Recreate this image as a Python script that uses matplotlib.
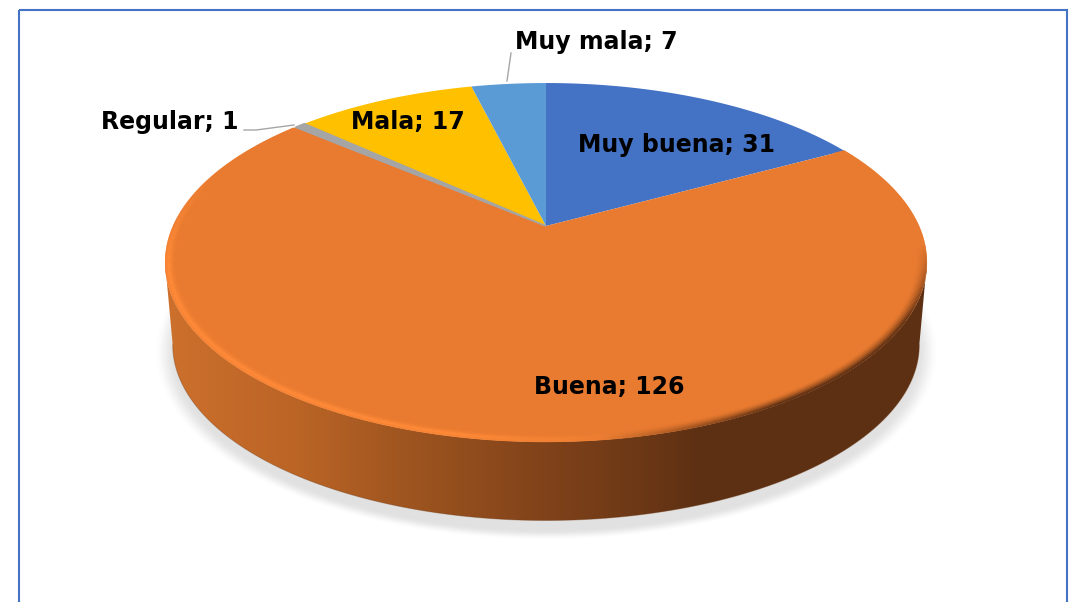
import matplotlib
matplotlib.use('Agg')
import matplotlib.pyplot as plt
import matplotlib.patches as patches
from matplotlib.collections import LineCollection
import numpy as np

# Data
categories = ['Muy buena', 'Buena', 'Regular', 'Mala', 'Muy mala']
values = [31, 126, 1, 17, 7]
colors = ['#4472C4', '#E97B30', '#A5A5A5', '#FFC000', '#5B9BD5']

# Where the 3D disc sits on the page, in pixels
cx = 546
apex_y = 226
rad_x = 373
rad_y = 172
persp = 0.203
low_apex_y = 309
low_scale = 0.98

fig = plt.figure(figsize=(10.74, 6.02), dpi=100)
ax = fig.add_axes([0, 0, 1, 1])
ax.set_xlim(0, 1074)
ax.set_ylim(602, 0)
ax.axis('off')


# Perspective view of a disc, angle in degrees clockwise from the top
def project(theta, rho=1.0, y0=apex_y, scale=1.0):
    t = np.radians(theta)
    u = rho * np.sin(t)
    v = rho * np.cos(t)
    d = 1 + persp * v
    return cx + scale * rad_x * u / d, y0 - scale * rad_y * v / d


# Frame
ax.add_patch(patches.Rectangle((19, 10), 1048, 640, fill=False, edgecolor='#4472C4', linewidth=1.5))

# Soft shadow under the disc
xx, yy = np.meshgrid(np.arange(130, 960), np.arange(240, 560))
r = np.sqrt(((xx - cx) / 372.0) ** 2 + ((yy - 352) / 178.0) ** 2)
fade = np.clip((1.055 - r) / 0.06, 0, 1)
fade = fade * fade * (3 - 2 * fade)
shadow = np.zeros(r.shape + (4,))
shadow[..., :3] = 0.35
shadow[..., 3] = 0.18 * fade
ax.imshow(shadow, extent=(130, 960, 560, 240), aspect='auto', zorder=1, interpolation='bilinear')

# Side of the disc: gradient clipped to the rim outline
theta_edge = np.degrees(np.arccos(-persp))
th = np.linspace(theta_edge, 360 - theta_edge, 400)
top_x, top_y = project(th)
low_x, low_y = project(th, y0=low_apex_y, scale=low_scale)
side_pts = np.column_stack([np.r_[top_x, low_x[::-1]], np.r_[top_y, low_y[::-1]]])
side = patches.Polygon(side_pts, closed=True, facecolor='none', edgecolor='none', zorder=2)
ax.add_patch(side)
grad_x = np.arange(150, 950)
stops_x = [165, 300, 400, 546, 640, 700, 930]
stops_r = [205, 186, 160, 128, 108, 93, 93]
stops_g = [112, 100, 86, 66, 56, 48, 48]
stops_b = [45, 38, 32, 26, 22, 19, 19]
grad = np.column_stack([np.interp(grad_x, stops_x, stops_r),
                        np.interp(grad_x, stops_x, stops_g),
                        np.interp(grad_x, stops_x, stops_b)]) / 255
im = ax.imshow(grad[np.newaxis, :, :], extent=(150, 950, 540, 240), aspect='auto', zorder=2)
im.set_clip_path(side)
ax.plot(low_x, low_y, color='#6E3A14', linewidth=0.7, alpha=0.35, zorder=2)

# Top of the disc, one polygon per slice
angles = np.r_[0, np.cumsum(values)] / np.sum(values) * 360
for i in range(len(values)):
    th = np.linspace(angles[i], angles[i + 1], 200)
    x, y = project(th)
    pts = np.column_stack([np.r_[cx, x], np.r_[apex_y, y]])
    # the one-unit slice gets an edge so that it keeps its visible width
    edge = colors[i] if values[i] == min(values) else 'none'
    ax.add_patch(patches.Polygon(pts, closed=True, facecolor=colors[i], edgecolor=edge,
                                 linewidth=1.2, zorder=3 + (values[i] == min(values)) * 0.5))

# Bevel along the rim of the big slice
base = np.array([233, 123, 48]) / 255
bright = np.array([255, 138, 56]) / 255
dark = np.array([98, 50, 20]) / 255
th = np.linspace(angles[1], angles[2] - 0.5, 700)
for rho in np.linspace(0.962, 0.998, 16):
    x, y = project(th, rho)
    v = np.cos(np.radians(th))
    h = np.exp(-((rho - 0.992) / 0.010) ** 2) * np.clip((640 - x) / 180, 0, 1) * np.clip((0.3 - v) / 0.5, 0, 1)
    d = np.clip((rho - 0.972) / 0.026, 0, 1) ** 1.6 * np.clip((x - 600) / 180, 0, 1) * np.clip((-0.1 - v) / 0.4, 0, 1)
    c = base + h[:, None] * (bright - base)
    c = c + d[:, None] * (dark - c)
    segs = np.stack([np.column_stack([x[:-1], y[:-1]]), np.column_stack([x[1:], y[1:]])], axis=1)
    ax.add_collection(LineCollection(segs, colors=c[:-1], linewidths=1.3, zorder=3.2))

# Leader lines
ax.plot([511, 507], [53, 81], color='#A6A6A6', linewidth=1, zorder=5)
ax.plot([244, 256, 294], [130, 130, 125], color='#A6A6A6', linewidth=1, zorder=5)

# Data labels
label_x = [676.5, 609, 170, 407.5, 596]
label_y = [145, 387, 122, 122, 42]
for i in range(len(values)):
    ax.text(label_x[i], label_y[i], f'{categories[i]}; {values[i]}', ha='center', va='center',
            fontsize=17, fontweight='bold', family='DejaVu Sans', color='black', zorder=6)

fig.savefig('out.png', dpi=100)
